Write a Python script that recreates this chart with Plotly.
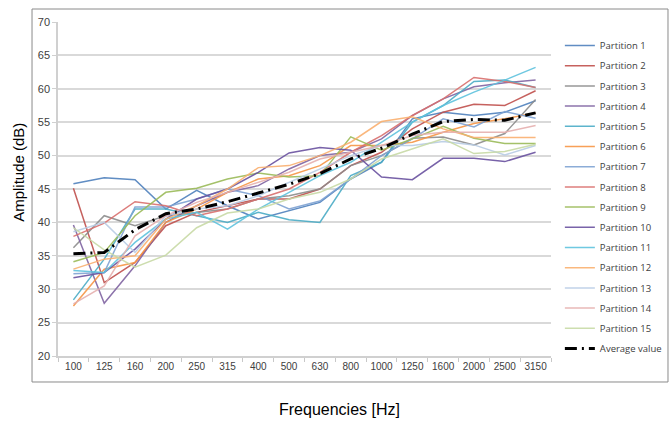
import plotly.graph_objects as go

freqs = ["100", "125", "160", "200", "250", "315", "400", "500", "630", "800",
         "1000", "1250", "1600", "2000", "2500", "3150"]

p1 = [45.8, 46.7, 46.4, 42.0, 44.8, 42.5, 40.5, 41.8, 43.0, 46.5, 49.0, 55.5, 56.5, 56.0, 56.5, 58.2]
p2 = [45.1, 31.0, 34.0, 39.5, 41.5, 42.5, 43.5, 43.5, 45.0, 48.5, 50.5, 54.0, 56.5, 57.7, 57.5, 59.7]
p3 = [36.2, 41.0, 39.5, 41.0, 41.5, 42.0, 43.5, 44.0, 45.0, 48.5, 50.0, 52.6, 52.8, 51.6, 53.3, 58.4]
p4 = [39.6, 27.9, 33.5, 40.0, 42.5, 44.5, 45.5, 48.0, 50.0, 50.5, 52.5, 56.0, 58.5, 60.3, 60.9, 61.3]
p5 = [28.4, 34.5, 42.0, 42.0, 41.0, 40.0, 41.5, 40.4, 40.0, 47.0, 49.0, 55.0, 57.5, 61.1, 61.3, 60.2]
p6 = [27.5, 33.0, 34.0, 40.0, 42.0, 44.5, 46.5, 47.0, 48.5, 51.5, 51.5, 52.0, 53.5, 54.8, 55.5, 56.4]
p7 = [32.3, 32.5, 42.3, 42.3, 43.5, 45.0, 44.0, 42.0, 43.2, 46.5, 50.0, 52.5, 55.5, 54.3, 56.6, 55.6]
p8 = [37.9, 39.9, 43.1, 42.5, 41.0, 42.0, 43.5, 45.0, 47.5, 50.5, 53.0, 56.0, 58.5, 61.7, 61.1, 60.2]
p9 = [34.1, 35.5, 41.0, 44.5, 45.1, 46.5, 47.4, 46.8, 47.0, 52.8, 50.8, 52.5, 54.4, 52.6, 51.8, 51.8]
p10 = [31.7, 32.5, 36.0, 40.5, 43.5, 45.0, 47.5, 50.4, 51.2, 50.8, 46.8, 46.4, 49.6, 49.6, 49.1, 50.5]
p11 = [32.8, 32.5, 37.0, 40.5, 41.5, 39.0, 42.0, 44.5, 47.0, 49.0, 52.0, 55.0, 57.5, 59.5, 61.3, 63.2]
p12 = [33.0, 34.5, 35.0, 40.5, 42.5, 45.0, 48.2, 48.5, 50.0, 52.0, 55.1, 55.8, 54.0, 52.7, 52.7, 52.7]
p13 = [38.6, 40.0, 35.5, 41.0, 42.0, 42.5, 44.0, 46.0, 48.0, 50.0, 51.5, 51.5, 52.1, 51.6, 50.1, 51.5]
p14 = [27.8, 30.5, 38.0, 41.0, 43.0, 44.5, 46.0, 47.5, 49.5, 50.5, 51.5, 53.0, 53.5, 53.5, 53.5, 54.5]
p15 = [39.2, 35.9, 33.3, 35.1, 39.2, 41.4, 42.0, 43.5, 44.5, 46.5, 49.5, 51.0, 52.5, 50.3, 50.6, 51.7]
average = [35.3, 35.5, 38.9, 41.3, 42.0, 43.1, 44.4, 45.7, 47.3, 49.5, 51.1, 53.2, 55.1, 55.4, 55.3, 56.4]

series = [p1, p2, p3, p4, p5, p6, p7, p8, p9, p10, p11, p12, p13, p14, p15]
names = ["Partition %d" % (i + 1) for i in range(15)]
colors = ["#4F81BD", "#C0504D", "#8C8C8C", "#8064A2", "#4BACC6", "#F79646",
          "#7FA3D3", "#D9706E", "#9BBB59", "#6A52A0", "#5FC3DE", "#FAB070",
          "#B9CDE5", "#E6B0AF", "#C8DAA6"]

fig = go.Figure()
for i, (name, vals, col) in enumerate(zip(names, series, colors)):
    fig.add_trace(go.Scatter(x=freqs, y=vals, name=name, mode="lines", legendgroup="g%d" % i,
                             line=dict(color=col, width=1.5), opacity=0.9))
fig.add_trace(go.Scatter(x=freqs, y=average, name="Average value", mode="lines", legendgroup="avg",
                         line=dict(color="black", width=3, dash="12px,5px,2px,5px")))

fnt = "Liberation Sans Narrow, Arial Narrow, Liberation Sans, sans-serif"
fig.update_layout(
    width=671, height=421,
    margin=dict(l=58, r=120, t=22, b=65, autoexpand=False),
    paper_bgcolor="white", plot_bgcolor="white",
    font=dict(family=fnt, size=10, color="#404040"),
    showlegend=True,
    legend=dict(x=1.018, y=0.973, xanchor="left", yanchor="top",
                font=dict(family="Open Sans, Liberation Sans, sans-serif", size=9.5, color="#404040"),
                bgcolor="rgba(0,0,0,0)", itemwidth=30, tracegroupgap=1.2),
    xaxis=dict(type="category", range=[-0.5, 15.5], showgrid=False,
               showline=True, linecolor="#d0d0d0", linewidth=1.5,
               ticks="outside", tickson="boundaries", ticklen=4, tickcolor="#c8c8c8",
               tickangle=0, automargin=False,
               tickfont=dict(family=fnt, size=10, color="#404040")),
    yaxis=dict(range=[20, 70], dtick=5, showgrid=True, gridcolor="#d9d9d9", gridwidth=1.5,
               showline=True, linecolor="#d0d0d0", linewidth=1.5,
               ticks="outside", ticklen=4, tickcolor="#d0d0d0", automargin=False,
               zeroline=False, tickfont=dict(family=fnt, size=11, color="#404040")),
    shapes=[dict(type="rect", xref="paper", yref="paper",
                 x0=-0.0527, x1=1.2373, y0=-0.0778, y1=1.0389,
                 line=dict(color="#8a8a8a", width=1), fillcolor="rgba(0,0,0,0)")],
    annotations=[
        dict(text="Amplitude (dB)", xref="paper", yref="paper", x=-0.08, y=0.55,
             xanchor="center", yanchor="middle", textangle=-90, showarrow=False,
             font=dict(family=fnt, size=15, color="#000000")),
        dict(text="Frequencies [Hz]", xref="paper", yref="paper", x=0.57, y=-0.16,
             xanchor="center", yanchor="middle", showarrow=False,
             font=dict(family=fnt, size=16, color="#000000")),
    ],
)

fig.write_html("out.html")
